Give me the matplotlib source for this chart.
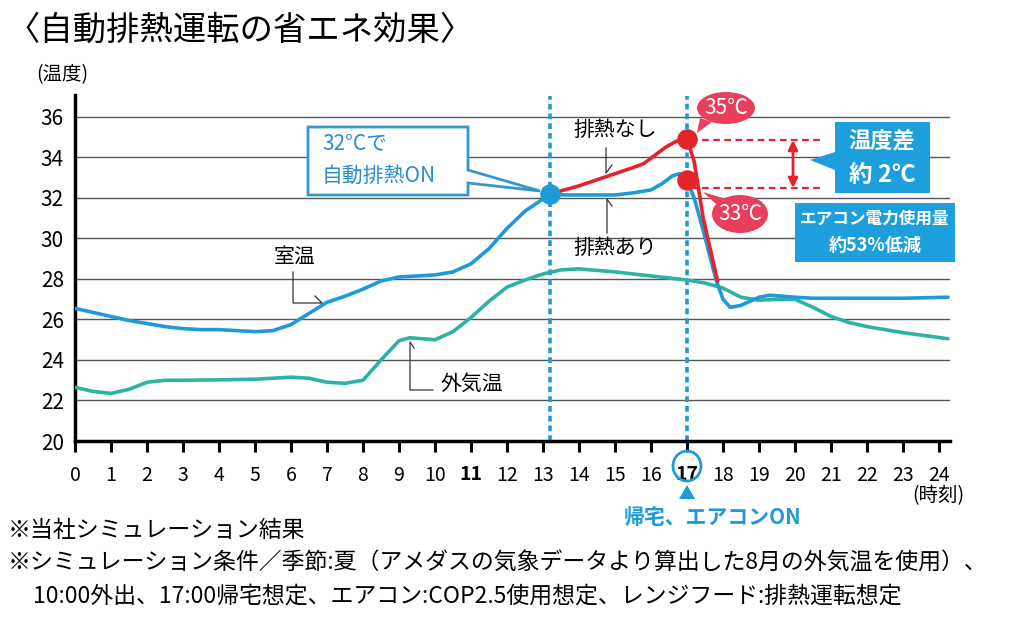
import numpy as np
import matplotlib
matplotlib.use("Agg")
import matplotlib.pyplot as plt
from matplotlib.patches import Polygon, Ellipse, Circle

plt.rcParams['font.family'] = ['Noto Sans CJK JP', 'DejaVu Sans']

# --- data ---
room_hours = [0, 0.5, 1, 1.5, 2, 2.5, 3, 3.5, 4, 4.5, 5, 5.5, 6, 6.5, 7, 7.5, 8, 8.5,
              9, 9.5, 10, 10.5, 11, 11.5, 12, 12.5, 13, 13.2]
room_temp = [26.55, 26.35, 26.15, 25.95, 25.8, 25.65, 25.55, 25.5, 25.5, 25.45, 25.4,
             25.45, 25.75, 26.3, 26.85, 27.15, 27.5, 27.9, 28.1, 28.15, 28.2, 28.35,
             28.75, 29.5, 30.5, 31.35, 31.95, 32.2]

with_hours = [13.2, 13.6, 14, 15, 15.5, 16, 16.3, 16.6, 16.8, 17, 17.2, 17.45, 17.8,
              18, 18.2, 18.5, 19, 19.3, 20, 20.5, 21, 22, 23, 24.25]
with_temp = [32.2, 32.15, 32.15, 32.15, 32.25, 32.4, 32.7, 33.1, 33.2, 32.9, 32.0,
             30.4, 28.0, 27.0, 26.6, 26.7, 27.1, 27.2, 27.1, 27.05, 27.05, 27.05,
             27.05, 27.1]

without_hours = [13.2, 14, 14.5, 15, 15.5, 15.8, 16.1, 16.4, 16.7, 17, 17.2, 17.45, 17.85]
without_temp = [32.2, 32.6, 32.9, 33.2, 33.5, 33.7, 34.1, 34.5, 34.8, 34.9, 33.8, 31.0, 27.9]

out_hours = [0, 0.5, 1, 1.5, 2, 2.5, 3, 4, 5, 5.5, 6, 6.5, 7, 7.5, 8, 8.5, 9, 9.3, 10,
             10.5, 11, 11.5, 12, 12.5, 13, 13.5, 14, 15, 16, 17, 17.5, 18, 18.5, 19,
             19.5, 20, 20.5, 21, 21.5, 22, 23, 24.25]
out_temp = [22.65, 22.45, 22.35, 22.55, 22.9, 23.0, 23.0, 23.02, 23.05, 23.1, 23.15,
            23.1, 22.9, 22.85, 23.0, 24.0, 24.95, 25.1, 25.0, 25.4, 26.1, 26.9, 27.6,
            27.95, 28.25, 28.45, 28.5, 28.35, 28.15, 27.95, 27.8, 27.55, 27.1, 26.95,
            27.0, 27.0, 26.6, 26.15, 25.85, 25.65, 25.35, 25.05]

on_hour, home_hour = 13.2, 17
on_temp = 32.2
home_without, home_with = 34.9, 32.9
x_ticks = list(range(0, 25))
y_ticks = list(range(20, 37, 2))

BLUE = '#1f9ad8'
TEAL = '#2db3a2'
RED = '#e3242b'
PINK = '#e8405c'
BOXBLUE = '#1c9fdc'

W, H = 1024, 617
fig = plt.figure(figsize=(W / 100, H / 100), dpi=100)
ax = fig.add_axes([75 / W, 1 - 441 / H, 24.3 * 36 / W, 346 / H])
ax.set_xlim(0, 24.3)
ax.set_ylim(20, 20 + 346 / 20.25)

def hx(px):
    return (px - 75) / 36.0

def ty(py):
    return 20 + (441 - py) / 20.25

# axes styling
for s in ['top', 'right']:
    ax.spines[s].set_visible(False)
for s in ['left', 'bottom']:
    ax.spines[s].set_linewidth(2.5)
ax.set_yticks(y_ticks)
ax.set_xticks(x_ticks)
ax.tick_params(axis='y', length=0, labelsize=15, pad=8)
ax.tick_params(axis='x', direction='out', length=8, width=2.2, labelsize=14, pad=9)
for lab in ax.get_xticklabels():
    if lab.get_text() in ('11', '17'):
        lab.set_fontweight('bold')
for yv in y_ticks[1:]:
    ax.axhline(yv, color='#555555', lw=1.0, zorder=1)

# vertical dashed markers
for xv in (on_hour, home_hour):
    ax.plot([xv, xv], [20, 37.05], color=BLUE, lw=2.6, dashes=(1.6, 1.1), zorder=2,
            clip_on=False)

# curves
ax.plot(out_hours, out_temp, color=TEAL, lw=2.6, zorder=3, solid_capstyle='round')
ax.plot(room_hours, room_temp, color=BLUE, lw=2.6, zorder=4, solid_capstyle='round')
ax.plot(with_hours, with_temp, color=BLUE, lw=2.6, zorder=4, solid_capstyle='round')
ax.plot(without_hours, without_temp, color=RED, lw=2.6, zorder=5, solid_capstyle='round')

# dots
ax.scatter([on_hour], [on_temp], s=190, color=BLUE, zorder=7)
ax.scatter([home_hour, home_hour], [home_without, home_with], s=190, color=RED, zorder=7)

# red dashed difference lines and arrow
for yv in (ty(140), ty(188)):
    ax.plot([home_hour + 0.1, hx(823)], [yv, yv], color=RED, lw=1.6, ls=(0, (3, 2)), zorder=6)
ax.annotate('', xy=(hx(793), ty(140)), xytext=(hx(793), ty(188)),
            arrowprops=dict(arrowstyle='<|-|>', color=RED, lw=2, mutation_scale=14,
                            shrinkA=0, shrinkB=0), zorder=6)

# callout box: 32°Cで自動排熱ON
x0, x1, yb, yt = hx(308), hx(468), ty(195), ty(127)
poly = Polygon([(x0, yb), (x1, yb), (x1, ty(183)), (hx(540), ty(191)), (x1, ty(170)),
                (x1, yt), (x0, yt)], closed=True, facecolor='white', edgecolor='#3399cc',
               lw=2, zorder=8)
ax.add_patch(poly)
ax.text(hx(322), ty(143), '32°Cで', color='#2a8fcf', fontsize=15, va='center', ha='left', zorder=9)
ax.text(hx(322), ty(176), '自動排熱ON', color='#2a8fcf', fontsize=15, va='center', ha='left', zorder=9)

# box: 温度差 約2℃
x0, x1, yb, yt = hx(835), hx(930), ty(193), ty(122)
poly = Polygon([(x0, yb), (x1, yb), (x1, yt), (x0, yt), (x0, ty(152)), (hx(810), ty(160)),
                (x0, ty(170))], closed=True, facecolor=BOXBLUE, edgecolor='none', zorder=8,
               clip_on=False)
ax.add_patch(poly)
ax.text(hx(882), ty(141), '温度差', color='white', fontsize=16, fontweight='bold',
        ha='center', va='center', zorder=9)
ax.text(hx(882), ty(175), '約 2℃', color='white', fontsize=17, fontweight='bold',
        ha='center', va='center', zorder=9)

# box: エアコン電力使用量 約53%低減
poly = Polygon([(hx(795), ty(262)), (hx(955), ty(262)), (hx(955), ty(203)), (hx(795), ty(203))],
               closed=True, facecolor=BOXBLUE, edgecolor='none', zorder=8, clip_on=False)
ax.add_patch(poly)
ax.text(hx(875), ty(219), 'エアコン電力使用量', color='white', fontsize=12, fontweight='bold',
        ha='center', va='center', zorder=9)
ax.text(hx(875), ty(245), '約53%低減', color='white', fontsize=13, fontweight='bold',
        ha='center', va='center', zorder=9)

# red bubbles
for (cx, cy, w, h, tail, label) in [
        (726, 108, 58, 32, [(700, 118), (697, 133), (712, 122)], '35℃'),
        (740, 214, 56, 38, [(716, 204), (703, 192), (726, 199)], '33℃')]:
    ax.add_patch(Ellipse((hx(cx), ty(cy)), w / 36, h / 20.25, facecolor=PINK,
                         edgecolor='none', zorder=8, clip_on=False))
    ax.add_patch(Polygon([(hx(px), ty(py)) for px, py in tail], closed=True,
                         facecolor=PINK, edgecolor='none', zorder=8, clip_on=False))
    ax.text(hx(cx), ty(cy), label, color='white', fontsize=15, ha='center', va='center',
            zorder=9)

# labels and leaders
lk = dict(color='#333333', lw=0.9, zorder=6)
ax.text(hx(615), ty(130), '排熱なし', fontsize=15, ha='center', va='center', zorder=9)
ax.plot([hx(606), hx(606), hx(612)], [ty(148), ty(173), ty(165)], **lk)
ax.text(hx(615), ty(248), '排熱あり', fontsize=15, ha='center', va='center', zorder=9)
ax.plot([hx(612), hx(607), hx(607)], [ty(206), ty(199), ty(233)], **lk)
ax.text(hx(295), ty(257), '室温', fontsize=15, ha='center', va='center', zorder=9)
ax.plot([hx(293), hx(293), hx(322), hx(315)], [ty(272), ty(303), ty(303), ty(296)], **lk)
ax.text(hx(472), ty(384), '外気温', fontsize=15, ha='center', va='center', zorder=9)
ax.plot([hx(414), hx(410), hx(410), hx(433)], [ty(348), ty(342), ty(390), ty(390)], **lk)

# 17 circle, triangle, home label
ax.add_patch(Ellipse((home_hour, ty(466)), 28 / 36, 30 / 20.25, facecolor='none',
                     edgecolor=BLUE, lw=2, clip_on=False, zorder=9))
ax.add_patch(Polygon([(hx(679), ty(499)), (hx(695), ty(499)), (hx(687), ty(485))],
                     closed=True, facecolor=BLUE, edgecolor='none', clip_on=False))
fig.text(712 / W, 1 - 517 / H, '帰宅、エアコンON', color=BLUE, fontsize=15,
         fontweight='bold', ha='center', va='center')
fig.text(938 / W, 1 - 496 / H, '(時刻)', fontsize=14, ha='center', va='center')
fig.text(36 / W, 1 - 75 / H, '(温度)', fontsize=14, ha='left', va='center')

# title and footnotes
fig.text(6 / W, 1 - 30 / H, '〈自動排熱運転の省エネ効果〉', fontsize=24, ha='left', va='center')
fig.text(8 / W, 1 - 530 / H, '※当社シミュレーション結果', fontsize=16.5, ha='left', va='center')
fig.text(8 / W, 1 - 563 / H, '※シミュレーション条件／季節:夏（アメダスの気象データより算出した8月の外気温を使用）、',
         fontsize=16.5, ha='left', va='center')
fig.text(33 / W, 1 - 596 / H, '10:00外出、17:00帰宅想定、エアコン:COP2.5使用想定、レンジフード:排熱運転想定',
         fontsize=16.5, ha='left', va='center')

fig.savefig('out.png', dpi=100, facecolor='white')
